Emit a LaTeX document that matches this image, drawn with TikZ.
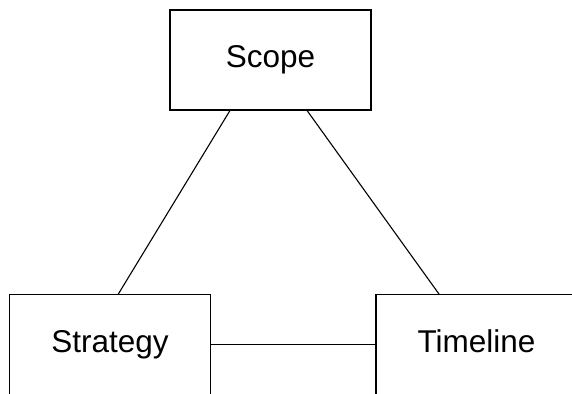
\documentclass[tikz,border=0pt]{standalone}
\usepackage{fontspec}
\setmainfont{Liberation Sans}
\usetikzlibrary{calc}
\begin{document}
\begin{tikzpicture}[x=1pt,y=-1pt,
  box/.style={draw=black,line width=1.3pt,minimum width=201pt,minimum height=100pt,inner sep=0pt,outer sep=0pt,text height=22.5pt,text depth=7.5pt,font=\fontsize{31.5}{36}\selectfont},
  link/.style={draw=black,line width=1.1pt}]
\useasboundingbox (0,0) rectangle (572,393);
\fill[white] (0,0) rectangle (572,393);
\node[box] (scope) at (270.5,60) {Scope};
\node[box] (strategy) at (110,344.5) {Strategy};
\node[box] (timeline) at (476.5,344.5) {Timeline};
\coordinate (s1) at ($(scope.south west)!0.3!(scope.south east)$);
\coordinate (s2) at ($(scope.south west)!0.68!(scope.south east)$);
\coordinate (g1) at ($(strategy.north west)!0.54!(strategy.north east)$);
\coordinate (t1) at ($(timeline.north west)!0.315!(timeline.north east)$);
\draw[link] (s1) -- (g1);
\draw[link] (s2) -- (t1);
\draw[link] (strategy.east) -- (timeline.west);
\end{tikzpicture}
\end{document}
